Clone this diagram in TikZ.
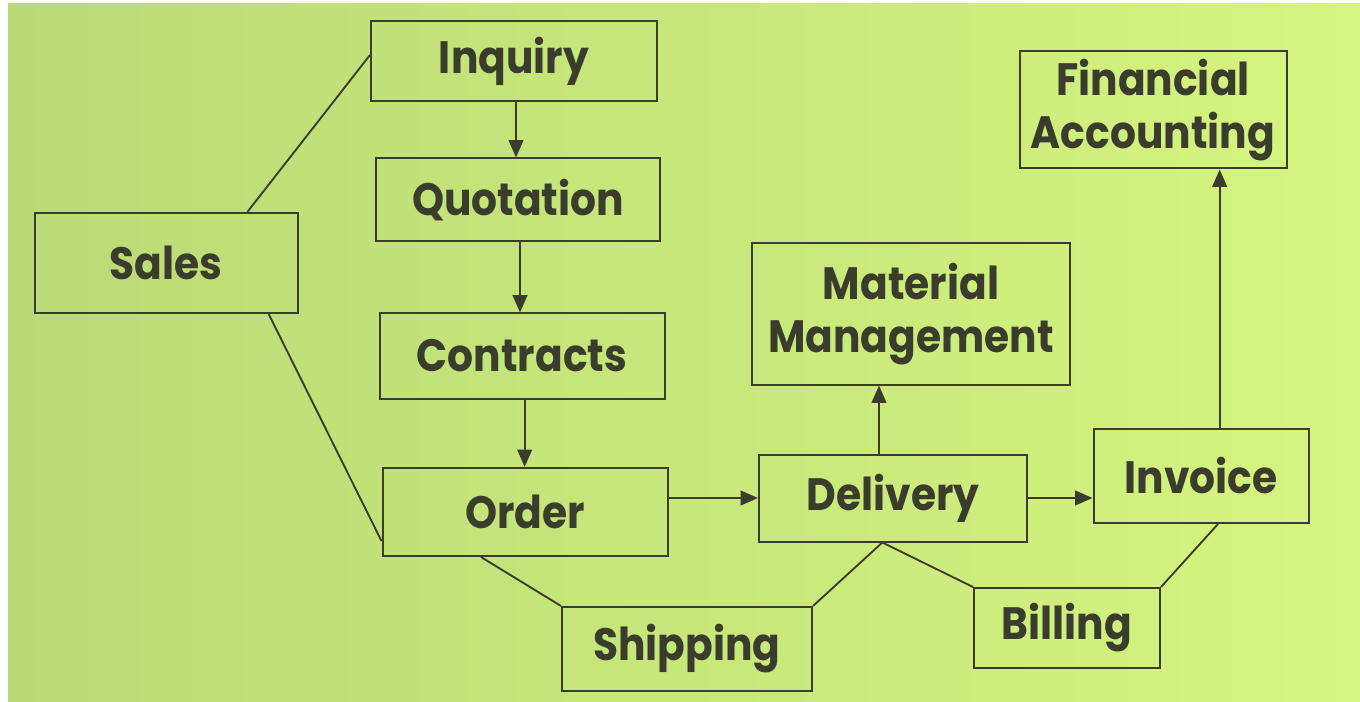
\documentclass[tikz,border=0pt]{standalone}
\usepackage{fontspec}
\setmainfont{Poppins}[FakeStretch=0.9]
\usetikzlibrary{arrows.meta}
\definecolor{ink}{HTML}{3A3D2C}
\definecolor{bgl}{RGB}{186,218,118}
\definecolor{bgr}{RGB}{214,244,128}
\begin{document}
\begin{tikzpicture}[x=0.75pt,y=-0.75pt,
  box/.style={draw=ink, line width=1.5pt, text=ink, font=\fontsize{34}{40}\selectfont\bfseries, align=center, inner sep=0pt},
  ln/.style={draw=ink, line width=1.4pt},
  arr/.style={ln, -{Triangle[length=13pt,width=11pt]}}]
\fill[white] (0,0) rectangle (1360,702);
\shade[left color=bgl, right color=bgr] (8,4) rectangle (1360,702);
\useasboundingbox (0,0) rectangle (1360,702);

\node[box, minimum width=214.5pt, minimum height=60pt] (inq) at (514,61) {Inquiry};
\node[box, minimum width=213pt, minimum height=62.25pt] (quo) at (518,200) {Quotation};
\node[box, minimum width=213.75pt, minimum height=63.75pt] (con) at (522,356) {Contracts};
\node[box, minimum width=213.75pt, minimum height=66pt] (ord) at (525,512) {Order};
\node[box, minimum width=197.25pt, minimum height=75pt] (sal) at (166,263) {Sales};
\node[box, minimum width=187.5pt, minimum height=63pt] (shp) at (687,649) {Shipping};
\node[box, minimum width=201pt, minimum height=65.25pt] (del) at (893,498) {Delivery};
\node[box, minimum width=238.5pt, minimum height=105.75pt] (mat) at (911,314) {Material\\Management};
\node[box, minimum width=161.25pt, minimum height=70.5pt] (inv) at (1201,476) {Invoice};
\node[box, minimum width=139.5pt, minimum height=60pt] (bil) at (1067,628) {Billing};
\node[box, minimum width=200.25pt, minimum height=87.75pt] (fin) at (1153,110) {Financial\\Accounting};

\draw[ln] ([xshift=61pt]sal.north) -- ([yshift=4.5pt]inq.west);
\draw[ln] ([xshift=77pt]sal.south) -- ([yshift=-21.75pt]ord.west);
\coordinate (a1) at ([xshift=1.5pt]inq.south);
\draw[arr] (a1) -- (a1 |- quo.north);
\coordinate (a2) at ([xshift=1.5pt]quo.south);
\draw[arr] (a2) -- (a2 |- con.north);
\coordinate (a3) at ([xshift=2pt]con.south);
\draw[arr] (a3) -- (a3 |- ord.north);
\draw[arr] (ord.east |- del.west) -- (del.west);
\draw[arr] (del.east) -- (del.east -| inv.west);
\coordinate (dm) at ([xshift=-10.5pt]del.north);
\draw[arr] (dm) -- (dm |- mat.south);
\coordinate (ifa) at ([xshift=14pt]inv.north);
\draw[arr] (ifa) -- (ifa |- fin.south);
\draw[ln] ([xshift=-33pt]ord.south) -- (shp.north west);
\coordinate (db) at ([xshift=-8pt]del.south);
\draw[ln] (db) -- (shp.north east);
\draw[ln] (db) -- (bil.north west);
\draw[ln] ([xshift=12.75pt]inv.south) -- (bil.north east);
\end{tikzpicture}
\end{document}
